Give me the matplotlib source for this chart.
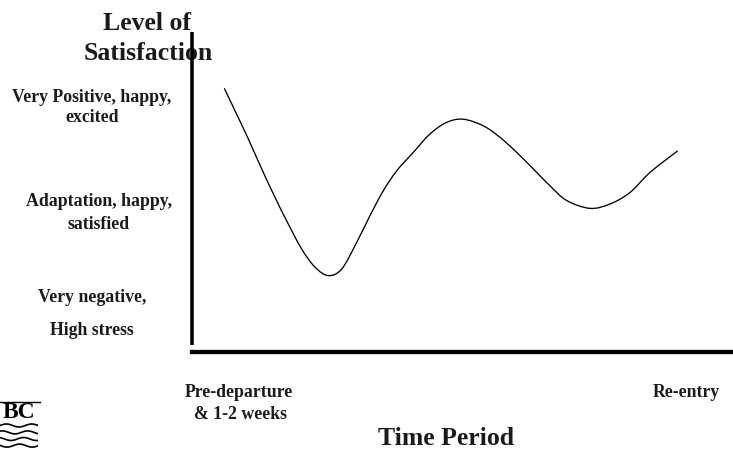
import numpy as np
import matplotlib
matplotlib.use("Agg")
import matplotlib.pyplot as plt
from matplotlib.lines import Line2D
from matplotlib.path import Path
from matplotlib.patches import PathPatch

# ---- data ----
time_x = [5.92, 7.90, 10.36, 12.84, 15.30, 17.75, 20.23, 22.69, 25.15, 27.63,
          30.40, 32.87, 35.32, 37.80, 40.87, 43.96, 47.05, 50.12, 53.82, 56.91,
          60.00, 63.07, 66.16, 69.25, 73.56, 77.26, 80.96, 84.66, 89.77]
satisfaction_y = [82.0, 74.8, 65.8, 56.2, 47.1, 38.6, 30.6, 24.8, 22.1, 24.2,
                  32.7, 41.3, 49.2, 55.6, 61.5, 67.4, 71.1, 72.1, 70.0, 66.3,
                  61.5, 56.2, 50.8, 46.1, 43.6, 45.0, 48.7, 55.1, 62.0]

level_labels = [["Very Positive, happy,", "excited"],
                ["Adaptation, happy,", "satisfied"],
                ["Very negative,", "High stress"]]
time_labels = [["Pre-departure", "& 1-2 weeks"], ["Re-entry"]]
y_title = ["Level of", "Satisfaction"]
x_title = "Time Period"

W, H = 733, 452
fig = plt.figure(figsize=(W / 100, H / 100), dpi=100)
fig.patch.set_facecolor("white")

def fx(x):
    return x / W

def fy(y):
    return 1 - y / H

serif = ["Liberation Serif", "DejaVu Serif"]

ax = fig.add_axes([fx(192.3), fy(345.7), (W - 192.3) / W, (345.7 - 33) / H])
ax.patch.set_visible(False)
ax.set_xlim(0, 100)
ax.set_ylim(0, 100)
ax.set_xticks([])
ax.set_yticks([])
for s in ["top", "right"]:
    ax.spines[s].set_visible(False)
ax.spines["left"].set_linewidth(2.55)
ax.spines["left"].set_capstyle("butt")
ax.spines["bottom"].set_linewidth(3.1)
ax.spines["bottom"].set_position(("outward", 5.3))
ax.spines["left"].set_zorder(5)

# smooth curve through the read points (Catmull-Rom as cubic Bezier path)
P = np.column_stack([time_x, satisfaction_y])
verts = [P[0]]
codes = [Path.MOVETO]
n = len(P)
for i in range(n - 1):
    p0 = P[i - 1] if i > 0 else P[i]
    p1 = P[i]
    p2 = P[i + 1]
    p3 = P[i + 2] if i + 2 < n else P[i + 1]
    c1 = p1 + (p2 - p0) / 6.0
    c2 = p2 - (p3 - p1) / 6.0
    verts += [c1, c2, p2]
    codes += [Path.CURVE4] * 3
ax.add_patch(PathPatch(Path(verts, codes), facecolor="none", edgecolor="black",
                       lw=0.95))

# ---- text ----
small = dict(fontsize=12.8, fontweight="bold", family=serif, ha="center",
             va="center", color="#1a1a1a", zorder=-1)
big = dict(fontsize=18.5, fontweight="bold", family=serif, ha="center",
           va="center", color="#1a1a1a", zorder=-1)

# y title
fig.text(fx(147), fy(23), y_title[0], **big)
fig.text(fx(148), fy(54), y_title[1], **big)

# level labels
level_pos = [[(92, 98), (92, 118)],
             [(99, 202), (99, 225)],
             [(92, 298), (92, 331)]]
for lines, poss in zip(level_labels, level_pos):
    for t, (x, y) in zip(lines, poss):
        fig.text(fx(x), fy(y), t, **small)

# time labels
time_pos = [[(239, 393), (240, 415)], [(686, 393)]]
for lines, poss in zip(time_labels, time_pos):
    for t, (x, y) in zip(lines, poss):
        fig.text(fx(x), fy(y), t, **small)

fig.text(fx(446), fy(439), x_title, **big)

# ---- small BC logo (decoration) ----
fig.add_artist(Line2D([fx(0), fx(40)], [fy(402.7), fy(402.7)], color="black", lw=1.0))
fig.text(fx(19), fy(413), "BC", fontsize=17, fontweight="bold", family=serif,
         ha="center", va="center", color="black")
lax = fig.add_axes([0, 0, fx(38), (452 - 422) / H])
lax.set_axis_off()
lax.set_xlim(0, 1)
lax.set_ylim(0, 1)
t = np.linspace(0, 1, 40)
for k, yb in enumerate([0.85, 0.62, 0.4, 0.18]):
    lax.plot(t, yb + 0.05 * np.sin(2 * np.pi * 1.5 * t + k), color="black", lw=1.2)

fig.savefig("out.png", dpi=100, facecolor="white")
